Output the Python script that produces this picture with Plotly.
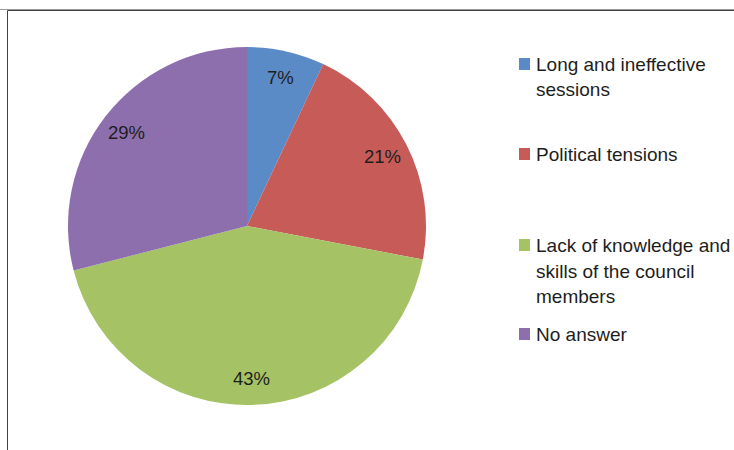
import math
import plotly.graph_objects as go

# Reasons given, share of respondents (%)
categories = [
    "Long and ineffective sessions",
    "Political tensions",
    "Lack of knowledge and skills of the council members",
    "No answer",
]
legend_text = [
    "Long and ineffective<br>sessions",
    "Political tensions",
    "Lack of knowledge and<br>skills of the council<br>members",
    "No answer",
]
values = [7, 21, 43, 29]
colors = ["#5B8BC7", "#C65B58", "#A5C265", "#8D6FAD"]

W, H = 734, 450
CX, CY, R = 247, 226, 179          # pie centre and radius (px)
FONT = "Liberation Sans"
TEXT_COLOR = "#1e1e1e"

fig = go.Figure(
    go.Pie(
        labels=categories,
        values=values,
        marker=dict(colors=colors, line=dict(width=0)),
        sort=False,
        direction="clockwise",
        rotation=0,
        textinfo="none",
        hoverinfo="label+percent",
        showlegend=False,
        domain=dict(x=[(CX - R) / W, (CX + R) / W],
                    y=[(H - CY - R) / H, (H - CY + R) / H]),
    )
)


def px_x(x):
    return x / W


def px_y(y):
    return (H - y) / H


annotations = []
shapes = []

# Percentage labels inside each slice, near the rim
total = sum(values)
cum = 0.0
for v in values:
    mid = (cum + v / 2) / total * 2 * math.pi
    cum += v
    r = 0.85 * R
    annotations.append(dict(
        x=px_x(CX + r * math.sin(mid)), y=px_y(CY - r * math.cos(mid)),
        xref="paper", yref="paper", xanchor="center", yanchor="middle",
        text=f"{round(v / total * 100)}%", showarrow=False,
        font=dict(family=FONT, size=18.5, color=TEXT_COLOR),
    ))

# Legend: coloured square plus wrapped label, one entry per slice
entry_top = [64, 154, 245, 334]     # centre of each entry's first line (px)
line_pitch = 26
for label, color, y0 in zip(legend_text, colors, entry_top):
    shapes.append(dict(
        type="rect", xref="paper", yref="paper",
        x0=px_x(519), x1=px_x(530), y0=px_y(y0 - 6), y1=px_y(y0 + 6),
        fillcolor=color, line=dict(width=0),
    ))
    for i, line in enumerate(label.split("<br>")):
        annotations.append(dict(
            x=px_x(533.5), y=px_y(y0 + i * line_pitch),
            xref="paper", yref="paper", xanchor="left", yanchor="middle",
            text=line, showarrow=False,
            font=dict(family=FONT, size=19, color=TEXT_COLOR),
        ))

# Chart frame (top and left edges)
shapes += [
    dict(type="line", xref="paper", yref="paper", x0=0, x1=1,
         y0=px_y(9.5), y1=px_y(9.5), line=dict(color="#9a9a9a", width=1)),
    dict(type="line", xref="paper", yref="paper", x0=px_x(7.5), x1=1,
         y0=px_y(10.5), y1=px_y(10.5), line=dict(color="#404040", width=1)),
    dict(type="line", xref="paper", yref="paper", x0=px_x(7.5), x1=px_x(7.5),
         y0=0, y1=px_y(10.5), line=dict(color="#404040", width=1)),
]

fig.update_layout(
    width=W, height=H,
    margin=dict(l=0, r=0, t=0, b=0),
    paper_bgcolor="white",
    plot_bgcolor="white",
    font=dict(family=FONT, size=18, color=TEXT_COLOR),
    annotations=annotations,
    shapes=shapes,
)

fig.write_html("out.html")
